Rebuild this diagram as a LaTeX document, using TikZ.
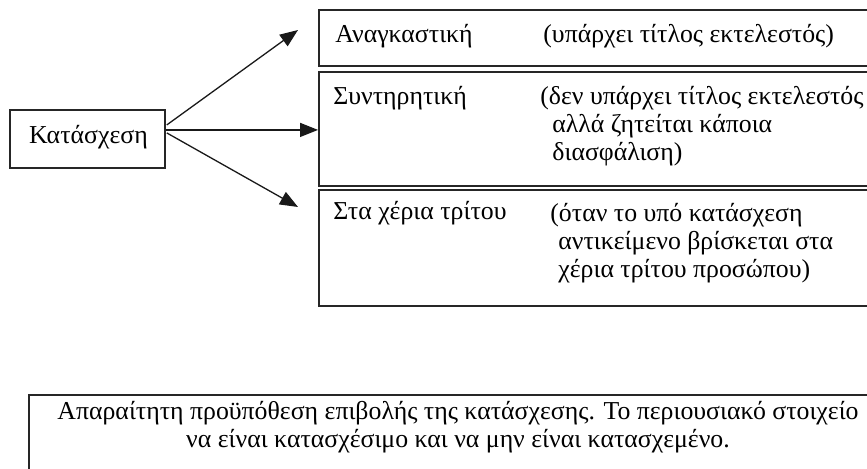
\documentclass[tikz,border=0pt]{standalone}
\usepackage{fontspec}
\setmainfont{Liberation Serif}
\usetikzlibrary{arrows.meta, positioning, calc}

\tikzset{
  frame/.style={draw=black!85, line width=0.9pt, inner sep=0pt, anchor=north west},
  label/.style={inner sep=0pt, anchor=base west, align=left},
  reach/.style={-{Triangle[length=9pt,width=7pt]}, line width=0.65pt, black!90}
}

\begin{document}
\begin{tikzpicture}[x=0.5pt, y=-0.5pt, font=\fontsize{12.9}{14}\selectfont]
        \path[use as bounding box, clip] (0,0) rectangle (867,469);

        % Katasxesi (source box)
        \node[frame, minimum width=77.5pt, minimum height=29pt] (kat) at (9,109) {};
        \node[inner sep=0pt] (katlbl) at ($(kat.center)+(1,-2)$) {Κατάσχεση};

        % Anagkastiki
        \node[frame, minimum width=283.5pt, minimum height=28pt] (anag) at (318,9) {};
        \node[label] (anaglbl) at (335,43) {Αναγκαστική};
        \node[label] (anagtxt) at (543,43) {(υπάρχει τίτλος εκτελεστός)};

        % Syntiritiki (multi-line text: base = last line)
        \node[frame, minimum width=283.5pt, minimum height=57pt] (synt) at (318,71) {};
        \node[label] (syntlbl) at (333,105) {Συντηρητική};
        \node[label] (synttxt) at (540,161)
          {(δεν υπάρχει τίτλος εκτελεστός\\\hspace*{6pt}αλλά ζητείται κάποια\\\hspace*{6pt}διασφάλιση)};

        % Sta xeria tritou
        \node[frame, minimum width=283.5pt, minimum height=58pt] (trit) at (318,189) {};
        \node[label] (tritlbl) at (333,220) {Στα χέρια τρίτου};
        \node[label] (trittxt) at (550,278)
          {(όταν το υπό κατάσχεση\\\hspace*{4pt}αντικείμενο βρίσκεται στα\\\hspace*{4pt}χέρια τρίτου προσώπου)};

        % Arrows
        \coordinate (src) at ($(kat.north east)!0.35!(kat.south east)$);
        \coordinate (srcA) at ($(src)+(1,-5)$);
        \coordinate (srcC) at ($(src)+(1,3)$);
        \coordinate (tipA) at (298,30);
        \coordinate (tipC) at (298,207);
        \draw[reach] (srcA) -- (tipA);
        \draw[reach] (src) -- (src -| synt.west);
        \draw[reach] (srcC) -- (tipC);

        % Proypothesi (bottom note)
        \node[frame, minimum width=430pt, minimum height=50pt] (cond) at (28,394) {};
        \node[inner sep=0pt, anchor=base, align=center] (condtxt) at (458,448)
          {Απαραίτητη προϋπόθεση επιβολής της κατάσχεσης. Το περιουσιακό στοιχείο\\να είναι κατασχέσιμο και να μην είναι κατασχεμένο.};
    \end{tikzpicture}
\end{document}
